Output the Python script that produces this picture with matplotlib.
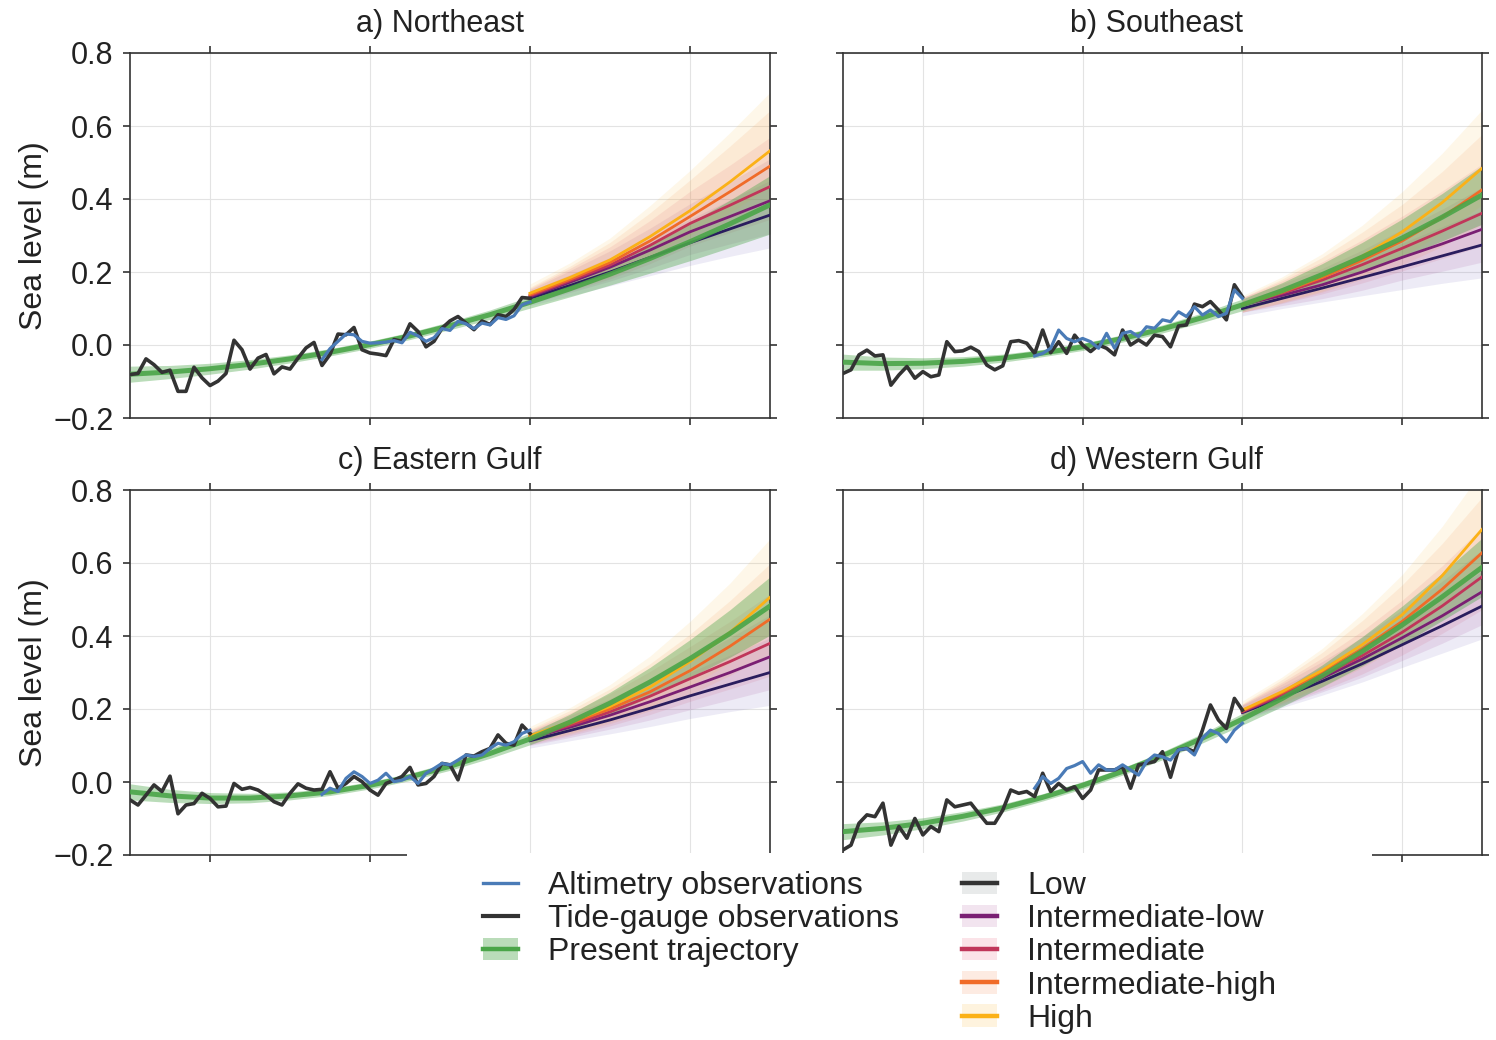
#!/usr/bin/env python3
"""Regional sea level: observations, present trajectory and scenarios."""

import numpy as np
import matplotlib

matplotlib.use("Agg")
import matplotlib.pyplot as plt
from matplotlib.lines import Line2D
from matplotlib.patches import Patch, Rectangle
from matplotlib.ticker import FuncFormatter

plt.rcParams["font.family"] = ["Liberation Sans", "DejaVu Sans"]

# ---- data -------------------------------------------------------------
years_tg = np.arange(1970, 2021)
years_alt = np.arange(1994, 2021)
years_traj = np.arange(1970, 2051, 5)
years_proj = np.arange(2020, 2051, 5)

panel_titles = ["a) Northeast", "b) Southeast", "c) Eastern Gulf", "d) Western Gulf"]
scenario_names = ["Low", "Intermediate-low", "Intermediate", "Intermediate-high", "High"]

tide_ne = [-0.081, -0.078, -0.038, -0.054, -0.075, -0.069, -0.127, -0.127, -0.061, -0.090,
           -0.111, -0.099, -0.078, 0.013, -0.013, -0.066, -0.036, -0.026, -0.079, -0.060,
           -0.066, -0.036, -0.008, 0.007, -0.056, -0.026, 0.030, 0.028, 0.048, -0.013,
           -0.022, -0.025, -0.029, 0.015, 0.010, 0.058, 0.037, -0.005, 0.010, 0.046,
           0.066, 0.078, 0.060, 0.042, 0.066, 0.056, 0.083, 0.078, 0.097, 0.130,
           0.128]
tide_se = [-0.078, -0.068, -0.027, -0.014, -0.030, -0.027, -0.110, -0.082, -0.059, -0.091,
           -0.073, -0.087, -0.082, 0.009, -0.018, -0.016, -0.006, -0.018, -0.055, -0.068,
           -0.057, 0.009, 0.012, 0.005, -0.023, 0.041, -0.021, 0.009, -0.023, 0.027,
           0.000, -0.018, 0.000, -0.009, -0.027, 0.041, 0.000, 0.014, 0.000, 0.027,
           0.023, -0.005, 0.052, 0.055, 0.112, 0.105, 0.119, 0.096, 0.069, 0.165,
           0.132]
tide_eg = [-0.049, -0.063, -0.036, -0.008, -0.026, 0.016, -0.087, -0.063, -0.059, -0.031,
           -0.045, -0.068, -0.066, -0.004, -0.020, -0.015, -0.022, -0.036, -0.054, -0.063,
           -0.031, -0.005, -0.017, -0.022, -0.020, 0.028, -0.017, -0.004, 0.015, 0.001,
           -0.022, -0.036, -0.004, 0.005, 0.015, 0.040, -0.008, -0.004, 0.015, 0.051,
           0.047, 0.006, 0.074, 0.071, 0.083, 0.092, 0.129, 0.106, 0.101, 0.156,
           0.133]
tide_wg = [-0.186, -0.173, -0.113, -0.090, -0.095, -0.058, -0.173, -0.122, -0.154, -0.100,
           -0.145, -0.122, -0.136, -0.049, -0.068, -0.063, -0.058, -0.086, -0.113, -0.113,
           -0.077, -0.022, -0.031, -0.026, -0.040, 0.024, -0.026, -0.004, -0.022, -0.013,
           -0.045, -0.022, 0.033, 0.033, 0.033, 0.042, -0.017, 0.047, 0.051, 0.056,
           0.083, 0.013, 0.088, 0.092, 0.083, 0.142, 0.211, 0.170, 0.147, 0.229,
           0.197]

alt_ne = [-0.040, -0.010, 0.010, 0.030, 0.028, 0.010, 0.005, 0.006, 0.008, 0.012,
          0.006, 0.035, 0.025, 0.010, 0.020, 0.045, 0.040, 0.065, 0.058, 0.045,
          0.060, 0.055, 0.075, 0.070, 0.080, 0.110, 0.118]
alt_se = [-0.030, -0.023, -0.009, 0.041, 0.018, 0.009, 0.018, 0.009, -0.009, 0.032,
          -0.009, 0.032, 0.037, 0.023, 0.050, 0.046, 0.069, 0.064, 0.091, 0.078,
          0.105, 0.082, 0.096, 0.078, 0.087, 0.151, 0.128]
alt_eg = [-0.034, -0.017, -0.026, 0.010, 0.028, 0.015, -0.004, 0.005, 0.024, 0.001,
          0.005, 0.015, -0.004, 0.024, 0.037, 0.051, 0.047, 0.060, 0.074, 0.070,
          0.074, 0.092, 0.106, 0.101, 0.110, 0.133, 0.142]
alt_wg = [-0.017, 0.015, -0.004, 0.010, 0.037, 0.045, 0.056, 0.024, 0.047, 0.033,
          0.033, 0.047, 0.033, 0.019, 0.056, 0.074, 0.069, 0.060, 0.088, 0.092,
          0.074, 0.120, 0.142, 0.133, 0.110, 0.142, 0.161]

# present trajectory, every 5 years 1970-2050
traj_ne = [-0.080, -0.074, -0.065, -0.053, -0.038, -0.020, 0.001, 0.025, 0.053,
           0.083, 0.117, 0.154, 0.194, 0.237, 0.283, 0.332, 0.384]
traj_se = [-0.047, -0.051, -0.050, -0.045, -0.036, -0.022, -0.005, 0.018, 0.044,
           0.075, 0.110, 0.149, 0.193, 0.241, 0.293, 0.350, 0.411]
traj_eg = [-0.027, -0.038, -0.044, -0.044, -0.038, -0.027, -0.009, 0.014, 0.043,
           0.078, 0.118, 0.164, 0.216, 0.274, 0.338, 0.407, 0.482]
traj_wg = [-0.136, -0.127, -0.113, -0.094, -0.071, -0.042, -0.009, 0.029, 0.072,
           0.120, 0.172, 0.229, 0.291, 0.358, 0.430, 0.507, 0.588]
traj_spread = [0.022, 0.018, 0.015, 0.013, 0.011, 0.010, 0.010, 0.010, 0.011,
               0.013, 0.016, 0.022, 0.030, 0.040, 0.052, 0.065, 0.080]

# scenario medians, every 5 years 2020-2050 (rows: Low ... High)
proj_ne = [[0.128, 0.163, 0.200, 0.240, 0.280, 0.318, 0.356],
           [0.132, 0.172, 0.213, 0.260, 0.310, 0.352, 0.395],
           [0.135, 0.176, 0.219, 0.273, 0.333, 0.383, 0.434],
           [0.138, 0.180, 0.226, 0.285, 0.352, 0.420, 0.490],
           [0.142, 0.185, 0.233, 0.297, 0.368, 0.447, 0.532]]
proj_se = [[0.100, 0.128, 0.156, 0.185, 0.214, 0.244, 0.274],
           [0.110, 0.136, 0.165, 0.200, 0.240, 0.277, 0.317],
           [0.110, 0.142, 0.178, 0.220, 0.265, 0.312, 0.361],
           [0.110, 0.145, 0.185, 0.232, 0.285, 0.350, 0.425],
           [0.110, 0.147, 0.190, 0.243, 0.310, 0.390, 0.484]]
proj_eg = [[0.113, 0.141, 0.170, 0.202, 0.236, 0.268, 0.300],
           [0.120, 0.150, 0.183, 0.220, 0.260, 0.300, 0.343],
           [0.122, 0.155, 0.192, 0.235, 0.283, 0.330, 0.380],
           [0.125, 0.160, 0.200, 0.247, 0.305, 0.372, 0.446],
           [0.127, 0.164, 0.207, 0.260, 0.330, 0.410, 0.506]]
proj_wg = [[0.190, 0.232, 0.276, 0.324, 0.376, 0.428, 0.482],
           [0.192, 0.237, 0.285, 0.337, 0.395, 0.455, 0.521],
           [0.193, 0.240, 0.290, 0.346, 0.410, 0.482, 0.562],
           [0.195, 0.245, 0.300, 0.365, 0.440, 0.528, 0.628],
           [0.197, 0.248, 0.306, 0.376, 0.458, 0.565, 0.692]]
# likely-range offsets below / above the median (same rows)
proj_below = [[0.020, 0.028, 0.038, 0.050, 0.062, 0.075, 0.090],
              [0.020, 0.028, 0.038, 0.050, 0.062, 0.075, 0.090],
              [0.020, 0.028, 0.038, 0.050, 0.062, 0.075, 0.090],
              [0.020, 0.029, 0.040, 0.052, 0.065, 0.080, 0.095],
              [0.020, 0.030, 0.042, 0.055, 0.068, 0.084, 0.100]]
proj_above = [[0.020, 0.030, 0.040, 0.052, 0.065, 0.080, 0.095],
              [0.020, 0.032, 0.045, 0.060, 0.077, 0.095, 0.115],
              [0.020, 0.034, 0.050, 0.068, 0.088, 0.110, 0.135],
              [0.020, 0.036, 0.055, 0.077, 0.100, 0.125, 0.152],
              [0.025, 0.040, 0.060, 0.085, 0.110, 0.135, 0.160]]

tides = [tide_ne, tide_se, tide_eg, tide_wg]
alts = [alt_ne, alt_se, alt_eg, alt_wg]
trajs = [traj_ne, traj_se, traj_eg, traj_wg]
projs = [proj_ne, proj_se, proj_eg, proj_wg]

# ---- style ------------------------------------------------------------
c_alt = "#4a7bb7"
c_tide = "#333333"
c_traj = "#4aa548"
scen_colors = ["#2a1d5e", "#7a1f73", "#c0365a", "#f06b28", "#fbb117"]
band_colors = ["#6b5fb5", "#9a3a90", "#d0506e", "#f58a4a", "#fbc04a"]
legend_line_colors = ["#333333", "#7a1f73", "#c0365a", "#f06b28", "#fbb117"]
legend_band_colors = ["#e8eaea", "#f2e4ef", "#fbe3e8", "#fdebe2", "#fef3de"]
spine_c = "#333333"
text_c = "#222222"

fig = plt.figure(figsize=(14.96, 10.4), dpi=100)
W, H = 1496.0, 1040.0
boxes = [(130, 53, 770, 418), (843, 53, 1482, 418),
         (130, 490, 770, 855), (843, 490, 1482, 855)]
minus_fmt = FuncFormatter(lambda v, _: f"{v:.1f}".replace("-", "\u2212"))

for i, (x0, y0, x1, y1) in enumerate(boxes):
    ax = fig.add_axes([x0 / W, 1 - y1 / H, (x1 - x0) / W, (y1 - y0) / H])
    proj = np.array(projs[i])
    below = np.array(proj_below)
    above = np.array(proj_above)
    for k in range(5):
        ax.fill_between(years_proj, proj[k] - below[k], proj[k] + above[k],
                        color=band_colors[k], alpha=0.12, lw=0, zorder=1)
    traj = np.array(trajs[i])
    spread = np.array(traj_spread)
    ax.fill_between(years_traj, traj - spread, traj + spread,
                    color=c_traj, alpha=0.38, lw=0, zorder=2)
    for k in range(5):
        ax.plot(years_proj, proj[k], color=scen_colors[k], lw=2.0, zorder=3)
    ax.plot(years_traj, traj, color=c_traj, lw=3.6, alpha=0.9, zorder=4)
    ax.plot(years_tg, tides[i], color=c_tide, lw=2.6, zorder=5)
    ax.plot(years_alt, alts[i], color=c_alt, lw=2.3, zorder=6)

    ax.set_xlim(1970, 2050)
    ax.set_ylim(-0.2, 0.8)
    ax.set_xticks([1980, 2000, 2020, 2040])
    ax.set_yticks([-0.2, 0.0, 0.2, 0.4, 0.6, 0.8])
    ax.yaxis.set_major_formatter(minus_fmt)
    ax.grid(True, color="#e3e3e3", lw=0.8)
    ax.set_axisbelow(True)
    for s in ax.spines.values():
        s.set_color(spine_c)
        s.set_linewidth(1.2)
    ax.tick_params(direction="out", length=5, width=1.2, color=spine_c,
                   top=True, right=True, labelbottom=False, pad=7,
                   labelsize=22, labelcolor=text_c)
    if i % 2 == 1:
        ax.tick_params(labelleft=False)
        tx = 0.491
    else:
        ax.set_ylabel("Sea level (m)", fontsize=23, color=text_c, labelpad=3)
        tx = 0.484
    ax.set_title(panel_titles[i], fontsize=22, color=text_c, pad=15, x=tx)

# white block behind the legend, covering the lower axes edges
fig.add_artist(Rectangle((407 / W, 0), (1372 - 407) / W, 1 - 853 / H,
                         transform=fig.transFigure, facecolor="white",
                         edgecolor="none", zorder=10))

obs_handles = [
    Line2D([], [], color=c_alt, lw=2.4),
    Line2D([], [], color=c_tide, lw=3.0),
    (Patch(facecolor=c_traj, alpha=0.38, edgecolor="none"),
     Line2D([], [], color=c_traj, lw=3.2)),
]
obs_labels = ["Altimetry observations", "Tide-gauge observations", "Present trajectory"]
scen_handles = [(Patch(facecolor=legend_band_colors[k], edgecolor="none"),
                 Line2D([], [], color=legend_line_colors[k], lw=3.2))
                for k in range(5)]

leg_kw = dict(loc="upper left", frameon=False, fontsize=23, handlelength=1.1,
              handletextpad=0.95, labelspacing=0.1, borderpad=0,
              borderaxespad=0, labelcolor=text_c)
leg1 = fig.legend(obs_handles, obs_labels,
                  bbox_to_anchor=(483 / W, 1 - 871 / H), **leg_kw)
leg2 = fig.legend(scen_handles, scenario_names,
                  bbox_to_anchor=(962 / W, 1 - 871 / H), **leg_kw)
leg1.set_zorder(11)
leg2.set_zorder(11)

fig.savefig("out.png", dpi=100)
plt.close(fig)
